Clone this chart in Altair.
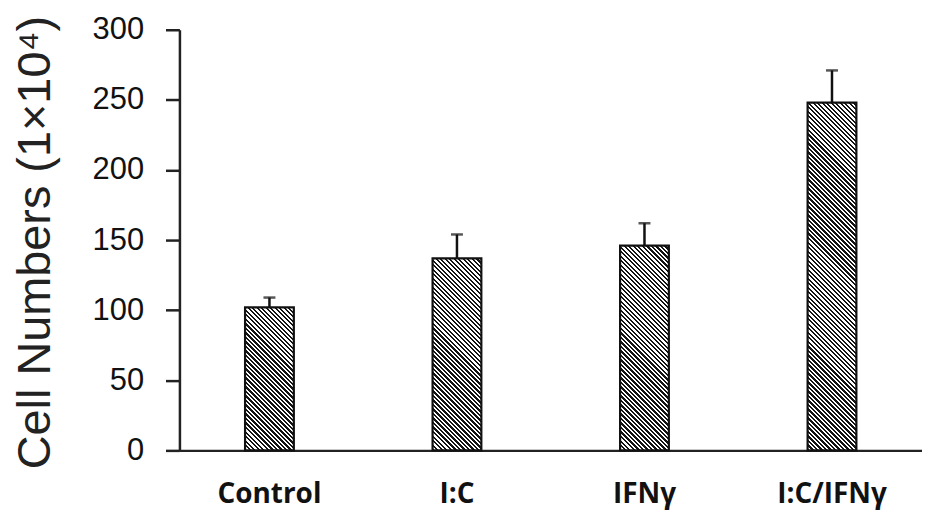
import altair as alt
import pandas as pd

categories = ["Control", "I:C", "IFNγ", "I:C/IFNγ"]
means = [102, 137, 146, 248]
errors = [7, 17, 16, 23]
y_ticks = [0, 50, 100, 150, 200, 250, 300]

df = pd.DataFrame({"cat": categories, "val": means, "err": errors})
df["hi"] = df["val"] + df["err"]

W, H = 745, 422
PI, PO = 0.74, 0.35
step = W / (len(categories) - PI + 2 * PO)
bw = step * (1 - PI)
PERIOD = 3.2
DARK, LIGHT = "#141414", "#ffffff"


def hatch(value):
    w = bw
    h = value / 300 * H
    a = (w + h) / (w * w + h * h)
    span = (w + h) / 2 ** 0.5
    n = int(span / PERIOD) + 1
    stops = []
    for i in range(n):
        o0 = min(1.0, round(i * PERIOD / span, 5))
        o1 = min(1.0, round((i + 0.5) * PERIOD / span, 5))
        o2 = min(1.0, round((i + 1) * PERIOD / span, 5))
        stops += [
            {"offset": o0, "color": DARK},
            {"offset": o1, "color": DARK},
            {"offset": o1, "color": LIGHT},
            {"offset": o2, "color": LIGHT},
        ]
    return {"gradient": "linear", "x1": 0, "y1": 1,
            "x2": round(a * w, 5), "y2": round(1 - a * h, 5), "stops": stops}


x_enc = alt.X("cat:N", sort=categories,
              scale=alt.Scale(domain=categories, paddingInner=PI, paddingOuter=PO),
              axis=alt.Axis(title=None, labelAngle=0, labelFont="Open Sans",
                            labelFontWeight="bold", labelFontSize=28, labelColor="#111",
                            labelPadding=30, ticks=False, tickSize=0,
                            domainColor="#222", domainWidth=2.5, grid=False))
y_enc = alt.Y("val:Q", scale=alt.Scale(domain=[0, 300], nice=False),
              axis=alt.Axis(title="Cell Numbers (1×10⁴)", values=y_ticks,
                            labelFont="Liberation Sans", labelFontSize=31, labelColor="#111",
                            labelPadding=22, tickSize=14, tickWidth=2.5, tickColor="#222",
                            domainColor="#222", domainWidth=2.5, grid=False,
                            titleFont="Liberation Sans", titleFontSize=47,
                            titleFontWeight="normal", titleColor="#222",
                            titleX=-130, titleY=213, titleBaseline="alphabetic",
                            titleAngle=270, titleAlign="center"))

base = alt.Chart(df)
layers = []
for c, v in zip(categories, means):
    layers.append(
        base.transform_filter(alt.datum.cat == c)
        .mark_bar(fill=hatch(v), stroke="#111", strokeWidth=2.2)
        .encode(x=x_enc, y=y_enc)
    )

rules = base.mark_rule(color="#111", strokeWidth=2.5).encode(
    x=alt.X("cat:N", sort=categories), y="val:Q", y2="hi:Q")
caps = base.mark_tick(color="#111", thickness=2.5, size=12, orient="horizontal").encode(
    x=alt.X("cat:N", sort=categories), y="hi:Q")

chart = alt.layer(*layers, rules, caps).properties(
    width=W, height=H,
    autosize=alt.AutoSizeParams(type="none"),
    padding={"left": 172, "top": 21, "right": 0, "bottom": 64},
    background="white",
).configure_view(stroke=None)

chart.save("out.html", embed_options={"renderer": "svg", "actions": False})
